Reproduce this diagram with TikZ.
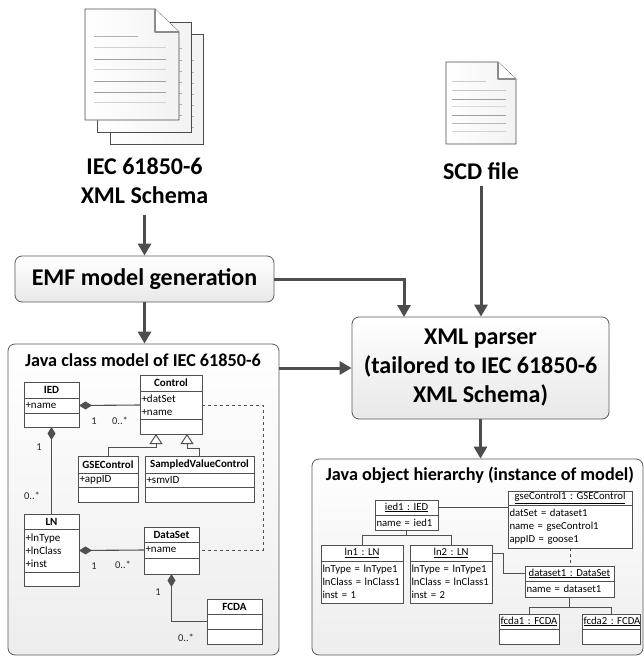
\documentclass[tikz,border=0pt]{standalone}
\usepackage{fontspec}
\setmainfont{Carlito}
\usepackage{xcolor}
\usetikzlibrary{arrows.meta,positioning}

\frenchspacing

\definecolor{linegray}{HTML}{4D4D4D}
\definecolor{boxgray}{HTML}{595959}
\definecolor{umlgray}{HTML}{505050}

\tikzset{
	bigbox/.style={draw=boxgray,line width=0.8pt,rounded corners=7pt,top color=white,bottom color=black!9,inner sep=0pt,align=center,font=\bfseries\fontsize{24}{29}\selectfont},
	panel/.style={draw=boxgray,line width=0.8pt,rounded corners=7pt,top color=white,bottom color=black!7,inner sep=0pt},
	paneltitle/.style={inner sep=0pt,font=\bfseries\fontsize{18.2}{20}\selectfont},
	doclabel/.style={inner sep=0pt,align=center,font=\bfseries\fontsize{24}{29}\selectfont},
	flow/.style={draw=linegray,line width=3pt,-{Triangle[length=12pt,width=13pt]}},
	umlpart/.style={draw=umlgray,line width=1pt,fill=white,inner ysep=0pt,inner xsep=1.5pt,outer sep=0pt},
	umlhead/.style={align=center,font=\bfseries\fontsize{11}{13}\selectfont},
	objhead/.style={align=center,font=\fontsize{10.7}{13}\selectfont},
	umlattr/.style={align=left,font=\fontsize{11}{13}\selectfont},
	objattr/.style={align=left,font=\fontsize{10.7}{13}\selectfont},
	comp/.style={draw=umlgray,line width=1.1pt,{Diamond[length=13pt,width=8pt,fill=umlgray]}-},
	gen/.style={draw=umlgray,line width=1pt,-{Triangle[open,length=10pt,width=13pt,fill=white]}},
	link/.style={draw=umlgray,line width=1pt},
	mult/.style={inner sep=0pt,font=\fontsize{10.5}{12}\selectfont,text=black!85},
	sheet/.style={draw=black!70,line width=0.8pt,left color=white,right color=black!5},
}

\newcommand{\umlpart}[7]{
	\node[umlpart,#7,minimum width={(#3-#2)*1pt},minimum height={(#5-#4)*1pt},text width={(#3-#2-3)*1pt}] (#1) at ({(#2+#3)/2},{(#4+#5)/2}) {#6};
}
\newcommand{\umlclass}[9]{
	\umlpart{#1_t}{#2}{#3}{#4}{#5}{#8}{umlhead}
	\umlpart{#1_a}{#2}{#3}{#5}{#6}{#9}{umlattr}
	\umlpart{#1_m}{#2}{#3}{#6}{#7}{}{umlattr}
}
\newcommand{\umlobject}[7]{
	\umlpart{#1_t}{#2}{#3}{#4}{#5}{\underline{#7}}{objhead}
	\umlpart{#1_a}{#2}{#3}{#5}{#6}{\objtext}{objattr}
}

\newcommand{\pagebody}[6]{
	\fill[white] (#1,#2) -- (#5,#2) -- (#3,#6) -- (#3,#4) -- (#1,#4) -- cycle;
	\draw[sheet] (#1,#2) -- (#5,#2) -- (#3,#6) -- (#3,#4) -- (#1,#4) -- cycle;
	\draw[black!45,line width=1.2pt,line join=round,fill=white] (#5,#2) -- (#5,#6) -- (#3,#6);
}

\begin{document}
\begin{tikzpicture}[x=1pt,y=-1pt]
	\useasboundingbox (0,0) rectangle (643,656);

	\draw[sheet] (110,34) rectangle (203,144);
	\foreach \y in {60,72,83,94,105,116,127}
		\draw[black!30,line width=0.7pt] (191,\y) -- (194,\y);
	\draw[sheet] (97,22) rectangle (191,132);
	\foreach \y in {48,60,71,82,93,104,115}
		\draw[black!30,line width=0.7pt] (179,\y) -- (182,\y);
	\pagebody{85}{9}{179}{120}{155}{32}
	\draw[black!30,line width=0.8pt] (94,36) -- (138,36);
	\foreach \y/\c in {47/18,59/38,69/18,81/38,92/38,102/18}
		\draw[black!\c,line width=0.8pt] (94,\y) -- (166,\y);

	\pagebody{446}{62}{516}{144}{498}{79}
	\draw[black!20,line width=0.7pt] (452,81) -- (486,81);
	\foreach \y/\c in {90/22,99/38,106/15,115/38,123/28,131/18}
		\draw[black!\c,line width=0.7pt] (452,\y) -- (506,\y);

	\node[doclabel,minimum height=69pt] (schema) at (144.5,180.5) {IEC 61850-6\\XML Schema};
	\node[doclabel,minimum height=30pt] (scd) at (481,171) {SCD file};

	\node[bigbox,minimum width=259pt,minimum height=46pt] (emf) at (144.5,279) {EMF model generation};
	\node[bigbox,minimum width=257pt,minimum height=102pt] (xml) at (480.5,368) {XML parser\\(tailored to IEC 61850-6\\XML Schema)};
	\node[panel,minimum width=271pt,minimum height=311pt] (model) at (143.5,499.5) {};
	\node[panel,minimum width=331pt,minimum height=196pt] (inst) at (477.5,557) {};
	\node[paneltitle] (model_title) at (143,360) {Java class model of IEC 61850-6};
	\node[paneltitle] (inst_title) at (480,475) {Java object hierarchy (instance of model)};

	\coordinate (xml_in) at (404,317);
	\path
	(schema.south) edge[flow] (emf.north)
	(emf.south) edge[flow] (emf.south |- model.north)
	(scd.south) edge[flow] (scd.south |- xml.north)
	(model.east |- xml.west) edge[flow] (xml.west)
	(xml.south) edge[flow] (xml.south |- inst.north)
	;
	\draw[flow] (emf.east) -| (xml_in);

	\umlclass{ied}{24}{79}{382}{398}{413}{427}{IED}{+name}
	\umlclass{control}{140}{202}{375}{391}{419}{434}{Control}{+datSet\\+name}
	\umlclass{gse}{78}{138}{456}{473}{487}{502}{GSEControl}{+appID}
	\umlclass{smv}{145}{254}{456}{473}{487}{502}{SampledValueControl}{+smvID}
	\umlclass{ln}{24}{79}{514}{529}{572}{586}{LN}{+lnType\\+lnClass\\+inst}
	\umlclass{dataset}{144}{199}{527}{542}{558}{574}{DataSet}{+name}
	\umlclass{fcda}{207}{262}{599}{614}{629}{644}{FCDA}{}

	\coordinate (gen_a) at (156,434);
	\coordinate (gen_b) at (187,434);
	\draw[comp] (ied_a.east) -- (control_a.west);
	\draw[comp] (ied_m.south) -- (ln_t.north);
	\draw[comp] (ln_a.east) -- (dataset_a.west);
	\draw[comp] (dataset_m.south) |- (fcda_a.west);
	\draw[gen] (gse_t.north) -- ++(0,-9) -| (gen_a);
	\draw[gen] (smv_t.north) -- ++(0,-8) -| (gen_b);
	\draw[link,dashed] (control_a.east) -- ++(61,0) |- (dataset_a.east);

	\node[mult] (m_1) at (94,421) {1};
	\node[mult] (m_2) at (120,421) {0..*};
	\node[mult] (m_3) at (39,447) {1};
	\node[mult] (m_4) at (32,496) {0..*};
	\node[mult] (m_5) at (94,566) {1};
	\node[mult] (m_6) at (123,565) {0..*};
	\node[mult] (m_7) at (158,592) {1};
	\node[mult] (m_8) at (186,638) {0..*};

	\def\objtext{name = ied1}
	\umlobject{ied1}{375}{438}{500}{515}{530}{ied1 : IED}
	\def\objtext{datSet = dataset1\\name = gseControl1\\appID = goose1}
	\umlobject{gse1}{508}{632}{491}{505}{548}{gseControl1 : GSEControl}
	\def\objtext{lnType = lnType1\\lnClass = lnClass1\\inst = 1}
	\umlobject{ln1}{321}{403}{545}{561}{603}{ln1 : LN}
	\def\objtext{lnType = lnType1\\lnClass = lnClass1\\inst = 2}
	\umlobject{ln2}{410}{492}{545}{561}{603}{ln2 : LN}
	\def\objtext{name = dataset1}
	\umlobject{data1}{525}{614}{566}{581}{597}{dataset1 : DataSet}
	\def\objtext{}
	\umlobject{fcda1}{499}{559}{614}{629}{644}{fcda1 : FCDA}
	\umlobject{fcda2}{582}{640}{614}{629}{644}{fcda2 : FCDA}

	\draw[link] (ied1_a.south) -- ++(0,5) -| (ln1_t.north);
	\draw[link] (ied1_a.south) -- ++(0,5) -| (ln2_t.north);
	\draw[link] (ied1_t.east) -- (ied1_t.east -| gse1_t.west);
	\draw[link,dashed] (gse1_a.south) -- (gse1_a.south |- data1_t.north);
	\draw[link] (ln2_t.east) -- ++(11,0) |- (data1_t.west);
	\draw[link] (data1_a.south) -- ++(0,10) -| (fcda1_t.north);
	\draw[link] (data1_a.south) -- ++(0,10) -| (fcda2_t.north);
\end{tikzpicture}
\end{document}
